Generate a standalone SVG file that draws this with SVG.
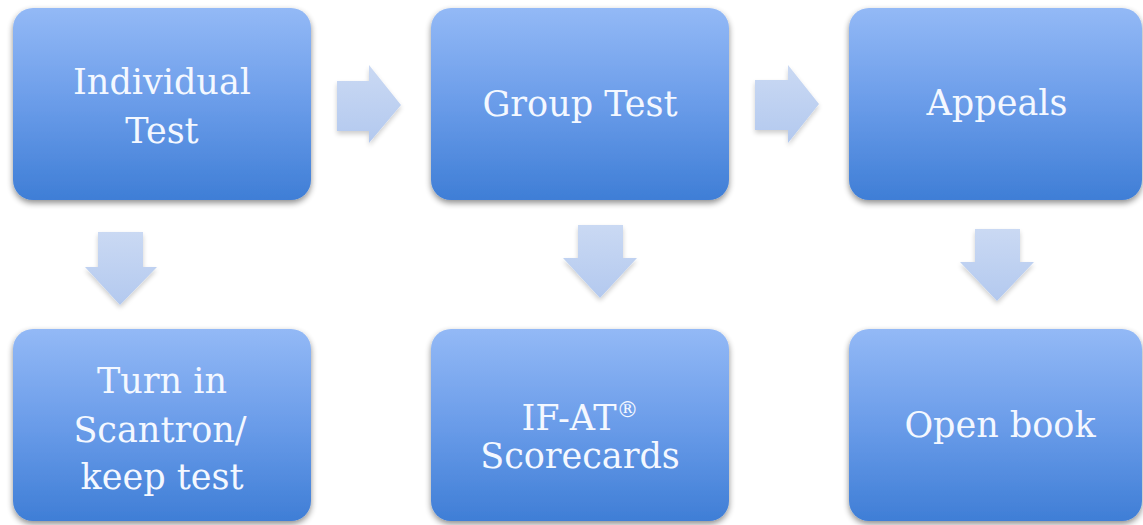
<svg xmlns="http://www.w3.org/2000/svg" width="1143" height="525" viewBox="0 0 1143 525">
  <defs>
    <linearGradient id="boxFill" x1="0" y1="0" x2="0" y2="1">
      <stop offset="0" stop-color="#93b9f6"/>
      <stop offset="0.5" stop-color="#6a9ce9"/>
      <stop offset="1" stop-color="#3f7ed6"/>
    </linearGradient>
    <linearGradient id="arrowFill" x1="0" y1="0" x2="0" y2="1">
      <stop offset="0" stop-color="#cad9f3"/>
      <stop offset="1" stop-color="#b3c9ef"/>
    </linearGradient>
    <filter id="shadow" x="-10%" y="-10%" width="120%" height="125%">
      <feGaussianBlur in="SourceAlpha" stdDeviation="3"/>
      <feOffset dx="0" dy="3" result="b"/>
      <feComponentTransfer><feFuncA type="linear" slope="0.45"/></feComponentTransfer>
      <feMerge><feMergeNode/><feMergeNode in="SourceGraphic"/></feMerge>
    </filter>
    <filter id="softShadow" x="-20%" y="-20%" width="140%" height="150%">
      <feGaussianBlur in="SourceAlpha" stdDeviation="2.5"/>
      <feOffset dx="0" dy="3" result="b"/>
      <feComponentTransfer><feFuncA type="linear" slope="0.2"/></feComponentTransfer>
      <feMerge><feMergeNode/><feMergeNode in="SourceGraphic"/></feMerge>
    </filter>
  </defs>
  <style>
    .box { fill: url(#boxFill); filter: url(#shadow); }
    .lbl { font-family: "DejaVu Serif", "Liberation Serif", serif; font-size: 35px; fill: #f4f8ff; text-anchor: middle; }
    .arrow { fill: url(#arrowFill); filter: url(#softShadow); }
  </style>

  <rect width="1143" height="525" fill="#ffffff"/>

  <!-- connectors: block arrows between steps -->
  <g id="connectors">
    <polygon class="arrow" points="337,81 369,81 369,65 401,105 369,143 369,131 337,131"/>
    <polygon class="arrow" points="755,80 788,80 788,65 819,104 788,143 788,130 755,130"/>
    <polygon class="arrow" points="98,232 143,232 143,267 157,267 120,305 85,267 98,267"/>
    <polygon class="arrow" points="578,225 623,225 623,258 637,258 600,298 563,258 578,258"/>
    <polygon class="arrow" points="975,229 1020,229 1020,262 1034,262 997,301 960,262 975,262"/>
  </g>

  <g id="individual-test">
    <rect class="box" x="13" y="8" width="298" height="192" rx="20"/>
    <text class="lbl" x="162" y="94">Individual</text>
    <text class="lbl" x="162" y="143">Test</text>
  </g>

  <g id="group-test">
    <rect class="box" x="431" y="8" width="298" height="192" rx="20"/>
    <text class="lbl" x="580" y="116">Group Test</text>
  </g>

  <g id="appeals">
    <rect class="box" x="849" y="8" width="293" height="192" rx="20"/>
    <text class="lbl" x="997" y="115">Appeals</text>
  </g>

  <g id="turn-in">
    <rect class="box" x="13" y="329" width="298" height="192" rx="20"/>
    <text class="lbl" x="162" y="393">Turn in</text>
    <text class="lbl" x="160" y="442">Scantron/</text>
    <text class="lbl" x="162" y="489">keep test</text>
  </g>

  <g id="ifat-scorecards">
    <rect class="box" x="431" y="329" width="298" height="192" rx="20"/>
    <text class="lbl" x="580" y="430">IF-AT<tspan font-size="22px" dy="-13">®</tspan></text>
    <text class="lbl" x="580" y="468">Scorecards</text>
  </g>

  <g id="open-book">
    <rect class="box" x="849" y="329" width="293" height="192" rx="20"/>
    <text class="lbl" x="1000" y="437">Open book</text>
  </g>
</svg>
